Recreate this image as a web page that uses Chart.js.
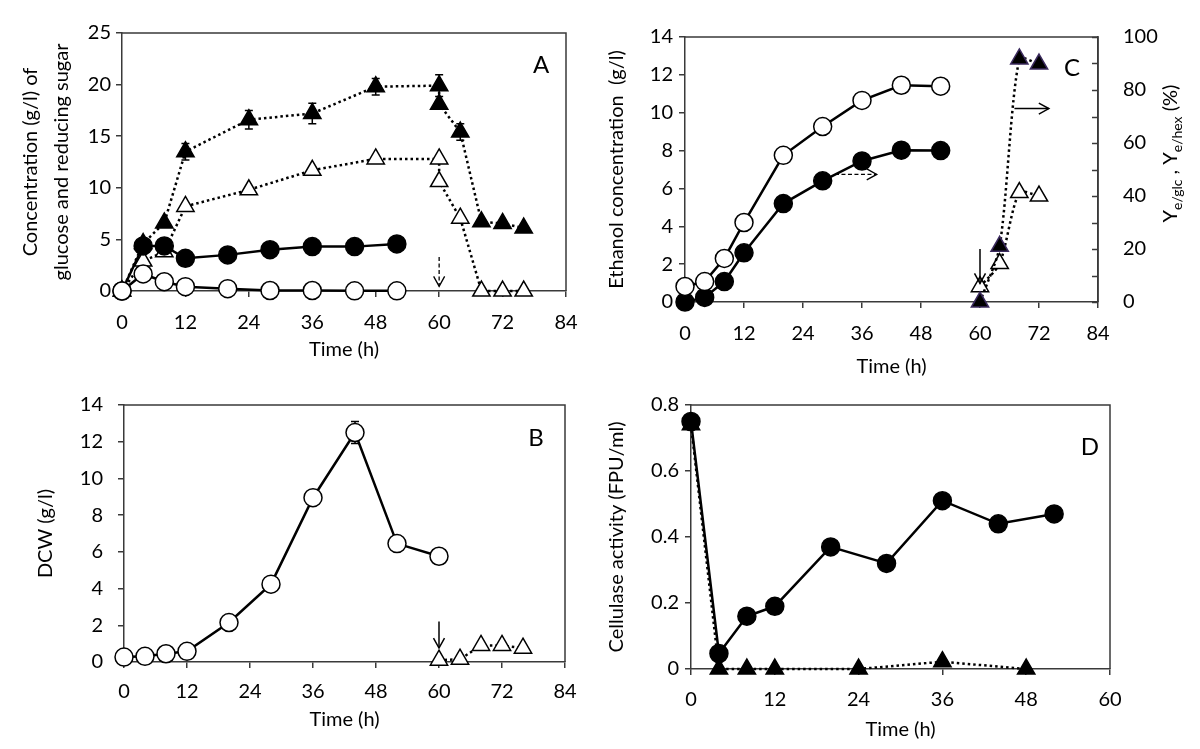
<!DOCTYPE html>
<html>
<head>
<meta charset="utf-8">
<script src="https://cdn.jsdelivr.net/npm/chart.js@4"></script>
<style>
    body { margin: 0; background: #fff; width: 1200px; height: 749px; position: relative; overflow: hidden; }
    canvas { position: absolute; }
</style>
</head>
<body>
<canvas id="chartA" width="600" height="400" style="left:0;top:0"></canvas>
<canvas id="chartC" width="600" height="400" style="left:600px;top:0"></canvas>
<canvas id="chartB" width="600" height="400" style="left:0;top:375px"></canvas>
<canvas id="chartD" width="600" height="400" style="left:600px;top:375px"></canvas>
<script>
// ======== DATA ========
// panel A - sugars (g/l)
const timeTriA = [0, 4, 8, 12, 24, 36, 48, 60, 60, 64, 68, 72, 76];
const redSugarTriA = [0, 4.6, 6.6, 13.5, 16.6, 17.2, 19.8, 19.9, 18.1, 15.4, 6.7, 6.55, 6.1];
const redSugarErrA = [0, 0, 0, 0.8, 0.9, 1.0, 0.8, 1.05, 0, 0.8, 0, 0, 0];
const glucoseTriA = [0, 2.9, 3.8, 8.2, 9.8, 11.7, 12.8, 12.8, 10.6, 7.05, 0, 0, 0];
const timeCircA = [0, 4, 8, 12, 20, 28, 36, 44, 52];
const redSugarCircA = [0, 4.37, 4.37, 3.17, 3.5, 4.0, 4.3, 4.3, 4.56];
const glucoseCircA = [0, 1.65, 0.9, 0.42, 0.23, 0.05, 0.05, 0.02, 0.02];

// panel B - DCW (g/l)
const timeB = [0, 4, 8, 12, 20, 28, 36, 44, 52, 60];
const dcwB = [0.27, 0.31, 0.45, 0.58, 2.15, 4.24, 8.95, 12.5, 6.45, 5.76];
const dcwErrB = [0, 0, 0, 0, 0, 0, 0, 0.6, 0, 0];
const timeTriB = [60, 64, 68, 72, 76];
const dcwTriB = [0.1, 0.15, 0.9, 0.9, 0.75];

// panel C - ethanol (g/l) and yields (%)
const timeC = [0, 4, 8, 12, 20, 28, 36, 44, 52];
const ethanolOpenC = [0.82, 1.08, 2.3, 4.2, 7.75, 9.27, 10.65, 11.45, 11.4];
const ethanolFilledC = [0, 0.24, 1.08, 2.6, 5.2, 6.4, 7.45, 8.02, 8.0];
const timeYieldC = [60, 64, 68, 72];
const yieldFilledC = [0, 21, 91.7, 89.8];
const yieldOpenC = [5.8, 14.5, 41.3, 40];

// panel D - cellulase (FPU/ml)
const timeD = [0, 4, 8, 12, 20, 28, 36, 44, 52];
const cellulaseD = [0.75, 0.047, 0.16, 0.19, 0.37, 0.32, 0.51, 0.44, 0.47];
const timeTriD = [0, 4, 8, 12, 24, 36, 48];
const cellulaseTriD = [0.74, 0, 0, 0, 0, 0.022, 0];

// ======== STYLE ========
const AXIS = '#3a3a3a';
Chart.defaults.font.family = 'Lato, "Open Sans", sans-serif';
Chart.defaults.font.size = 20;
Chart.defaults.color = '#000';

function pts(xs, ys) {
    return xs.map((x, i) => ({ x: x, y: ys[i] }));
}

function serie(xs, ys, o) {
    return {
        data: pts(xs, ys),
        yAxisID: o.axis || 'y',
        borderColor: '#000',
        borderWidth: 2.5,
        borderDash: o.dotted ? [2.5, 3] : [],
        tension: o.tension || 0,
        pointStyle: o.tri ? 'triangle' : 'circle',
        pointRadius: o.tri ? 10 : 9,
        pointBorderWidth: 1.5,
        pointBorderColor: o.edge || '#000',
        pointBackgroundColor: o.open ? '#fff' : '#000',
        clip: false,
        fill: false
    };
}

function xAxis(max, tickPad, titlePad) {
    return {
        type: 'linear', min: 0, max: max,
        ticks: { stepSize: 12, padding: tickPad, maxRotation: 0, autoSkip: false },
        grid: { drawOnChartArea: false, tickLength: 6, color: AXIS, lineWidth: 1.5 },
        border: { color: AXIS, width: 1.5 },
        title: { display: true, text: 'Time (h)', padding: { top: 0, bottom: titlePad } },
        afterFit: s => { s.height = 80; }
    };
}

function yAxis(max, step, o) {
    return {
        min: 0, max: max,
        ticks: { stepSize: step, padding: o.tickPad },
        grid: { drawOnChartArea: false, tickLength: 6, color: AXIS, lineWidth: 1.5 },
        border: { color: AXIS, width: 1.5 },
        title: {
            display: true, text: o.title,
            padding: { top: o.titlePad, bottom: 0 },
            font: { size: 20, lineHeight: o.lh || 1.2 }
        },
        afterFit: s => { s.width = o.width; }
    };
}

// ======== EXTRA DRAWING (frame, error bars, arrows, letters) ========
function arrowHead(ctx, x, y, ang) {
    const L = 10, W = 5.5;
    ctx.setLineDash([]);
    ctx.beginPath();
    ctx.moveTo(x - L * Math.cos(ang) + W * Math.sin(ang), y - L * Math.sin(ang) - W * Math.cos(ang));
    ctx.lineTo(x, y);
    ctx.lineTo(x - L * Math.cos(ang) - W * Math.sin(ang), y - L * Math.sin(ang) + W * Math.cos(ang));
    ctx.stroke();
}

const extras = {
    id: 'extras',
    beforeDatasetsDraw(chart, args, o) {
        const ctx = chart.ctx;
        ctx.save();
        ctx.strokeStyle = '#000';
        ctx.lineWidth = 1.5;
        (o.errors || []).forEach(e => {
            const meta = chart.getDatasetMeta(e.ds);
            const ys = chart.scales[meta.yAxisID];
            const xs = chart.scales.x;
            chart.data.datasets[e.ds].data.forEach((d, i) => {
                const err = e.err[i];
                if (!err) return;
                const px = xs.getPixelForValue(d.x);
                const top = ys.getPixelForValue(d.y + err);
                const bot = ys.getPixelForValue(d.y - err);
                ctx.beginPath();
                ctx.moveTo(px, top); ctx.lineTo(px, bot);
                ctx.moveTo(px - 4, top); ctx.lineTo(px + 4, top);
                ctx.moveTo(px - 4, bot); ctx.lineTo(px + 4, bot);
                ctx.stroke();
            });
        });
        ctx.restore();
    },
    afterDraw(chart, args, o) {
        const ctx = chart.ctx;
        const a = chart.chartArea;
        ctx.save();
        // top and right frame
        ctx.strokeStyle = AXIS;
        ctx.lineWidth = 1.5;
        ctx.beginPath();
        ctx.moveTo(a.left, a.top); ctx.lineTo(a.right, a.top); ctx.lineTo(a.right, a.bottom);
        ctx.stroke();

        // inner ticks on the right axis
        if (o.innerTicks) {
            const s = chart.scales[o.innerTicks.axis];
            for (let v = s.min; v <= s.max; v += o.innerTicks.step) {
                const py = Math.round(s.getPixelForValue(v)) + 0.5;
                ctx.beginPath();
                ctx.moveTo(a.right, py); ctx.lineTo(a.right - 6, py);
                ctx.stroke();
            }
        }

        // arrows
        ctx.strokeStyle = '#000';
        (o.arrows || []).forEach(ar => {
            const ys = chart.scales[ar.axis || 'y'];
            const xs = chart.scales.x;
            const x1 = xs.getPixelForValue(ar.x1), x2 = xs.getPixelForValue(ar.x2);
            const y1 = ys.getPixelForValue(ar.y1), y2 = ys.getPixelForValue(ar.y2);
            ctx.lineWidth = ar.dashed ? 1.3 : 1.5;
            ctx.setLineDash(ar.dashed ? [4, 2.5] : []);
            ctx.beginPath();
            ctx.moveTo(x1, y1); ctx.lineTo(x2, y2);
            ctx.stroke();
            arrowHead(ctx, x2, y2, Math.atan2(y2 - y1, x2 - x1));
        });
        ctx.setLineDash([]);

        // panel letter
        if (o.letter) {
            ctx.fillStyle = '#000';
            ctx.font = '24px Lato, "Open Sans", sans-serif';
            ctx.textAlign = 'center';
            ctx.textBaseline = 'middle';
            ctx.fillText(o.letter.text, a.right + o.letter.dx, a.top + o.letter.dy);
        }

        // right axis title with subscripts
        if (o.rightTitle) {
            const parts = o.rightTitle.parts;
            const fontOf = p => (p.sub ? '14px' : '20px') + ' Lato, "Open Sans", sans-serif';
            let total = 0;
            parts.forEach(p => { ctx.font = fontOf(p); p.w = ctx.measureText(p.t).width; total += p.w; });
            ctx.translate(o.rightTitle.x, (a.top + a.bottom) / 2 + o.rightTitle.dy);
            ctx.rotate(-Math.PI / 2);
            ctx.fillStyle = '#000';
            ctx.textAlign = 'left';
            ctx.textBaseline = 'alphabetic';
            let cx = -total / 2;
            parts.forEach(p => {
                ctx.font = fontOf(p);
                ctx.fillText(p.t, cx, p.sub ? 5 : 0);
                cx += p.w;
            });
        }
        ctx.restore();
    }
};

function makeChart(id, datasets, scales, padding, extraOpts) {
    const ctx = document.getElementById(id).getContext('2d');
    return new Chart(ctx, {
        type: 'line',
        data: { datasets: datasets },
        options: {
            responsive: false,
            animation: false,
            layout: { padding: padding },
            plugins: { legend: { display: false }, tooltip: { enabled: false }, extras: extraOpts },
            scales: scales
        },
        plugins: [extras]
    });
}

// ======== PANEL A ========
makeChart('chartA',
    [
        serie(timeCircA, glucoseCircA, { open: true }),
        serie(timeCircA, redSugarCircA, {}),
        serie(timeTriA, glucoseTriA, { tri: true, open: true, dotted: true }),
        serie(timeTriA, redSugarTriA, { tri: true, dotted: true })
    ],
    {
        x: xAxis(84, 14, 9),
        y: yAxis(25, 5, {
            title: ['Concentration (g/l) of', 'glucose and reducing sugar'],
            titlePad: 15.5, lh: 1.55, tickPad: 5, width: 122
        })
    },
    { left: 0, top: 33, right: 34, bottom: 29 },
    {
        errors: [{ ds: 3, err: redSugarErrA }],
        arrows: [{ x1: 60, y1: 3.3, x2: 60, y2: 0.45, dashed: true }],
        letter: { text: 'A', dx: -25, dy: 32 }
    }
);

// ======== PANEL C ========
makeChart('chartC',
    [
        serie(timeC, ethanolOpenC, { open: true }),
        serie(timeC, ethanolFilledC, {}),
        serie(timeYieldC, yieldFilledC, { tri: true, dotted: true, axis: 'y1', tension: 0.25, edge: '#3b2a5e' }),
        serie(timeYieldC, yieldOpenC, { tri: true, open: true, dotted: true, axis: 'y1', tension: 0.25 })
    ],
    {
        x: xAxis(84, 14, 3),
        y: yAxis(14, 2, { title: 'Ethanol concentration  (g/l)', titlePad: 5, tickPad: 6, width: 85 }),
        y1: {
            position: 'right', min: 0, max: 100,
            ticks: { stepSize: 20, padding: 25 },
            grid: { drawOnChartArea: false, drawTicks: false, color: AXIS, lineWidth: 1.5 },
            border: { color: AXIS, width: 1.5 },
            afterFit: s => { s.width = 70; }
        }
    },
    { left: 0, top: 34, right: 32, bottom: 18 },
    {
        innerTicks: { axis: 'y1', step: 10 },
        arrows: [
            { x1: 30.5, y1: 6.74, x2: 39, y2: 6.74, dashed: true },
            { x1: 67, y1: 73, x2: 74, y2: 73, axis: 'y1' },
            { x1: 60, y1: 20, x2: 60, y2: 7, axis: 'y1' }
        ],
        letter: { text: 'C', dx: -26, dy: 31 },
        rightTitle: {
            x: 577, dy: -16,
            parts: [
                { t: 'Y' }, { t: 'e/glc', sub: true }, { t: ' , ' },
                { t: 'Y' }, { t: 'e/hex', sub: true }, { t: ' (%)' }
            ]
        }
    }
);

// ======== PANEL B ========
makeChart('chartB',
    [
        serie(timeB, dcwB, { open: true }),
        serie(timeTriB, dcwTriB, { tri: true, open: true, dotted: true })
    ],
    {
        x: xAxis(84, 12, 10),
        y: yAxis(14, 2, { title: 'DCW (g/l)', titlePad: 34, tickPad: 15, width: 124 })
    },
    { left: 0, top: 30, right: 35, bottom: 33 },
    {
        errors: [{ ds: 0, err: dcwErrB }],
        arrows: [{ x1: 60, y1: 2.2, x2: 60, y2: 0.76 }],
        letter: { text: 'B', dx: -29, dy: 33 }
    }
);

// ======== PANEL D ========
makeChart('chartD',
    [
        serie(timeD, cellulaseD, {}),
        serie(timeTriD, cellulaseTriD, { tri: true, dotted: true })
    ],
    {
        x: xAxis(60, 13, 7),
        y: yAxis(0.8, 0.2, { title: 'Cellulase activity (FPU/ml)', titlePad: 5, tickPad: 6, width: 91 })
    },
    { left: 0, top: 30, right: 90, bottom: 26 },
    {
        letter: { text: 'D', dx: -20, dy: 42 }
    }
);
</script>
</body>
</html>
